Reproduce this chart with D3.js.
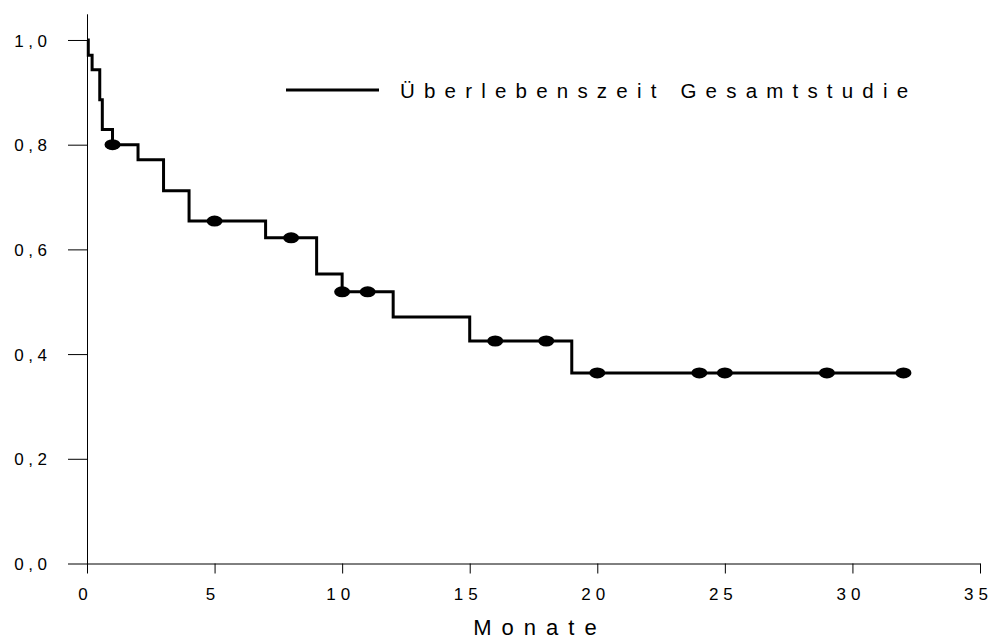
<!DOCTYPE html>
<html>
<head>
<meta charset="utf-8">
<script src="https://cdn.jsdelivr.net/npm/d3@7"></script>
<style>
  html, body { margin: 0; padding: 0; background: #fff; }
  svg { display: block; font-family: "Liberation Sans", Arial, sans-serif; }
</style>
</head>
<body>
<svg id="chart" width="993" height="640"></svg>
<script>
// Step times (months) and survival after each step
const stepTimes = [0, 0.05, 0.2, 0.5, 0.6, 1, 2, 3, 4, 7, 9, 10, 12, 15, 19, 32];
const survival  = [1.0, 0.971, 0.943, 0.886, 0.829, 0.800, 0.771, 0.712, 0.654, 0.622, 0.553, 0.519, 0.471, 0.425, 0.364, 0.364];
// Censored observations
const censorTimes = [1, 5, 8, 10, 11, 16, 18, 20, 24, 25, 29, 32];
const censorValues = [0.800, 0.654, 0.622, 0.519, 0.519, 0.425, 0.425, 0.364, 0.364, 0.364, 0.364, 0.364];
const xTicks = [0, 5, 10, 15, 20, 25, 30, 35];
const yTicks = [0, 0.2, 0.4, 0.6, 0.8, 1.0];
const seriesName = "Überlebenszeit Gesamtstudie";
const xTitle = "Monate";

const FONT = "'Liberation Sans', Arial, sans-serif";
const svg = d3.select("#chart");
const x = d3.scaleLinear().domain([0, 35]).range([87, 980]);
const y = d3.scaleLinear().domain([0, 1.05]).range([563.5, 13.8]);

// Y axis
const yAxis = svg.append("g")
  .attr("transform", `translate(${x(0)},0)`)
  .call(d3.axisLeft(y).tickValues(yTicks).tickSize(19).tickSizeOuter(0)
    .tickFormat(d => d3.format(".1f")(d).replace(".", ",")));
yAxis.select(".domain").attr("stroke", "#000").attr("stroke-width", 1);
yAxis.selectAll(".tick line").attr("stroke", "#000").attr("stroke-width", 1);
yAxis.selectAll(".tick text")
  .attr("x", -40 + 4.5)
  .attr("dy", "0.36em")
  .attr("font-size", 17)
  .attr("letter-spacing", 4.5)
  .attr("fill", "#000")
  .attr("font-family", FONT);

// X axis
const xAxis = svg.append("g")
  .attr("transform", `translate(0,${y(0)})`)
  .call(d3.axisBottom(x).tickValues(xTicks).tickSize(10).tickSizeOuter(0));
xAxis.select(".domain").attr("stroke", "#000").attr("stroke-width", 1);
xAxis.selectAll(".tick line").attr("stroke", "#000").attr("stroke-width", 1);
xAxis.selectAll(".tick text")
  .attr("y", 36.5)
  .attr("dy", 0)
  .attr("dx", -2)
  .attr("font-size", 17)
  .attr("letter-spacing", 5)
  .attr("fill", "#000")
  .attr("font-family", FONT);

// X title
svg.append("text")
  .attr("x", 540)
  .attr("y", 635)
  .attr("text-anchor", "middle")
  .attr("font-family", FONT)
  .attr("font-size", 22)
  .attr("letter-spacing", 10)
  .text(xTitle);

// Survival step line
const pts = stepTimes.map((t, i) => [t, survival[i]]);
const line = d3.line().x(d => x(d[0])).y(d => y(d[1])).curve(d3.curveStepAfter);
svg.append("path")
  .attr("d", line(pts))
  .attr("fill", "none")
  .attr("stroke", "#000")
  .attr("stroke-width", 3);

// Censor marks
svg.selectAll("ellipse.cens")
  .data(censorTimes.map((t, i) => [t, censorValues[i]]))
  .join("ellipse")
  .attr("class", "cens")
  .attr("cx", d => x(d[0]))
  .attr("cy", d => y(d[1]))
  .attr("rx", 8)
  .attr("ry", 5.5)
  .attr("fill", "#000");

// Legend
svg.append("line")
  .attr("x1", 286).attr("x2", 379)
  .attr("y1", 90).attr("y2", 90)
  .attr("stroke", "#000").attr("stroke-width", 3);
svg.append("text")
  .attr("x", 400)
  .attr("y", 97.5)
  .attr("font-family", FONT)
  .attr("font-size", 20.5)
  .attr("letter-spacing", 9.2)
  .text(seriesName);
</script>
</body>
</html>
